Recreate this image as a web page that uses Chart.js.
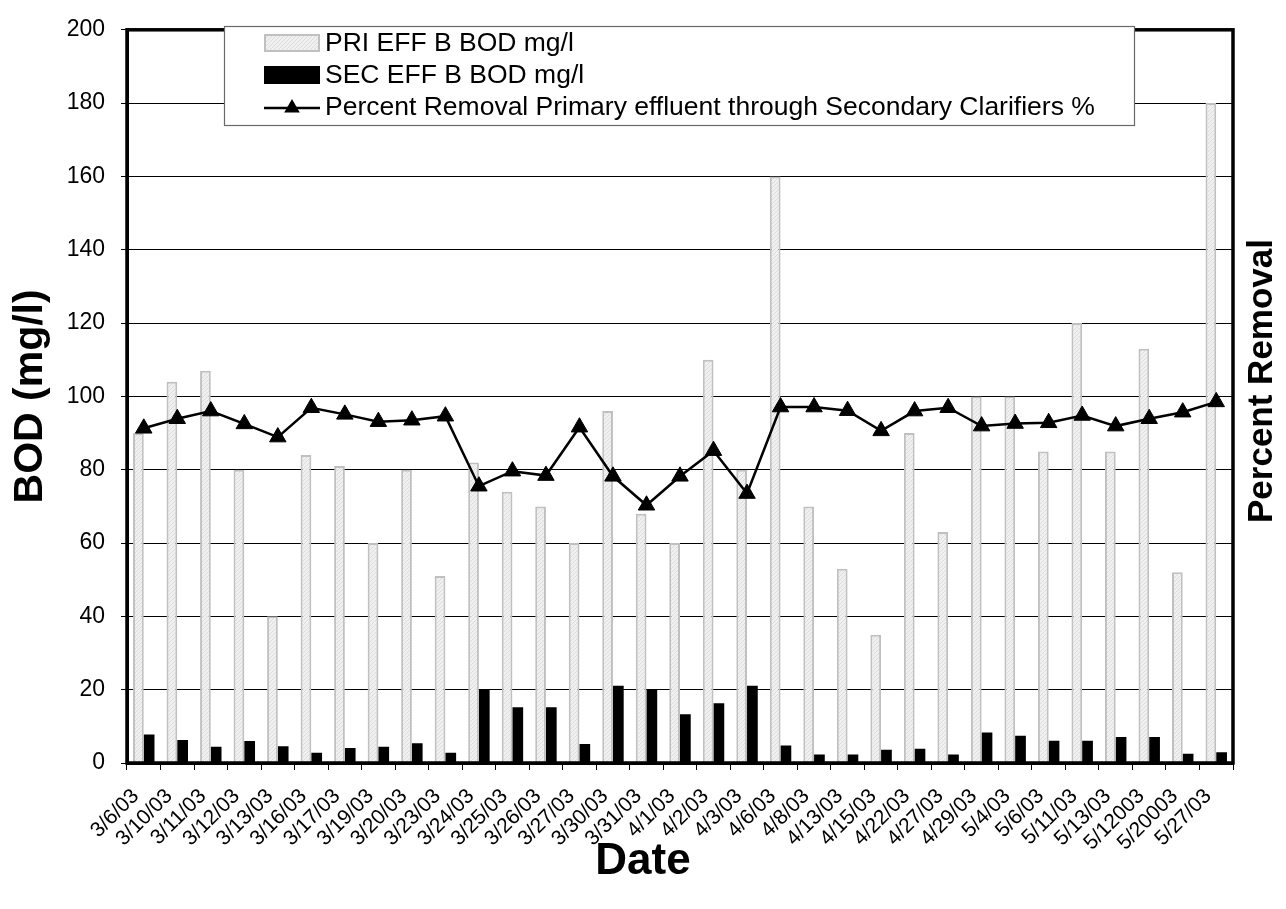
<!DOCTYPE html>
<html><head><meta charset="utf-8">
<script src="https://cdn.jsdelivr.net/npm/chart.js@4.4.1/dist/chart.umd.min.js"></script>
<style>html,body{margin:0;padding:0;background:#fff;}#wrap{width:1286px;height:909px;position:relative;}</style>
</head><body><div id="wrap"><canvas id="c" width="1286" height="909"></canvas></div>
<script>
const categories = ['3/6/03','3/10/03','3/11/03','3/12/03','3/13/03','3/16/03','3/17/03','3/19/03','3/20/03','3/23/03','3/24/03','3/25/03','3/26/03','3/27/03','3/30/03','3/31/03','4/1/03','4/2/03','4/3/03','4/6/03','4/8/03','4/13/03','4/15/03','4/22/03','4/27/03','4/29/03','5/4/03','5/6/03','5/11/03','5/13/03','5/12003','5/20003','5/27/03'];
const priEffBod = [90,104,107,80,40,84,81,60,80,51,82,74,70,60,96,68,60,110,80,160,70,53,35,90,63,100,100,85,120,85,113,52,180];
const secEffBod = [7.8,6.3,4.4,6.0,4.6,2.8,4.1,4.4,5.4,2.8,20.2,15.2,15.2,5.2,21.1,20.2,13.3,16.3,21.1,4.8,2.3,2.3,3.6,3.9,2.3,8.3,7.4,6.1,6.1,7.1,7.1,2.5,2.9];
const percentRemoval = [91.3,93.9,96.0,92.5,88.9,96.9,95.1,93.1,93.5,94.6,75.5,79.6,78.4,91.6,78.2,70.3,78.2,85.2,73.5,97.1,97.1,96.1,90.6,96.0,96.9,91.9,92.6,92.8,94.8,91.9,93.9,95.7,98.5];
const yTickValues = [0,20,40,60,80,100,120,140,160,180,200];
const seriesLabels = ['PRI EFF B BOD mg/l','SEC EFF B BOD mg/l','Percent Removal Primary effluent through Secondary Clarifiers %'];
const axisTitles = { x: 'Date', y: 'BOD (mg/l)', y2: 'Percent Removal' };

const FONT = "'Liberation Sans', Arial, sans-serif";
const canvas = document.getElementById('c');
const ctx = canvas.getContext('2d');

function makePattern(){
  const p = document.createElement('canvas'); p.width = 4; p.height = 4;
  const g = p.getContext('2d');
  g.fillStyle = '#f0f0f0'; g.fillRect(0,0,4,4);
  g.fillStyle = '#dcdcdc'; g.fillRect(0,3,1,1); g.fillRect(1,2,1,1); g.fillRect(2,1,1,1); g.fillRect(3,0,1,1);
  return ctx.createPattern(p,'repeat');
}
const priFill = makePattern();

function tri(c, x, y, r){
  c.beginPath();
  c.moveTo(x, y - r);
  c.lineTo(x + r*0.866, y + r*0.5);
  c.lineTo(x - r*0.866, y + r*0.5);
  c.closePath(); c.fill();
}

const decor = {
  id: 'decor',
  afterDraw(chart){
    const c = chart.ctx, a = chart.chartArea;
    c.save();
    c.strokeStyle = '#000'; c.lineWidth = 3.5;
    c.strokeRect(a.left, a.top, a.right - a.left, a.bottom - a.top);
    // legend
    const lx = 224, ly = 26, lw = 910, lh = 99;
    c.fillStyle = '#fff'; c.fillRect(lx, ly, lw, lh);
    c.strokeStyle = '#6a6a6a'; c.lineWidth = 1.2; c.strokeRect(lx+0.5, ly+0.5, lw, lh);
    c.fillStyle = priFill; c.fillRect(264, 34, 56, 18);
    c.strokeStyle = '#c0c0c0'; c.lineWidth = 2; c.strokeRect(265, 35, 54, 16);
    c.fillStyle = '#000'; c.fillRect(264, 66, 56, 18);
    c.strokeStyle = '#000'; c.lineWidth = 2.5;
    c.beginPath(); c.moveTo(264, 108); c.lineTo(320, 108); c.stroke();
    tri(c, 292, 108, 9);
    c.font = '26.5px ' + FONT; c.textBaseline = 'middle'; c.textAlign = 'left';
    c.fillText(seriesLabels[0], 325, 44);
    c.fillText(seriesLabels[1], 325, 76);
    c.fillText(seriesLabels[2], 325, 108);
    // right title
    c.save();
    c.translate(1262, 381);
    c.rotate(-Math.PI/2);
    c.font = 'bold 35px ' + FONT; c.textAlign = 'center'; c.textBaseline = 'middle';
    c.fillText(axisTitles.y2, 0, 0);
    c.restore();
    // x title
    c.font = 'bold 44px ' + FONT; c.textAlign = 'center'; c.textBaseline = 'middle';
    c.fillText(axisTitles.x, 643, 862);
    c.restore();
  }
};

new Chart(canvas, {
  type: 'bar',
  data: {
    labels: categories,
    datasets: [
      { type: 'line', label: seriesLabels[2], data: percentRemoval, yAxisID: 'y2', order: 0,
        borderColor: '#000', backgroundColor: '#000', borderWidth: 2.5,
        pointStyle: 'triangle', pointRadius: 9.5, pointBackgroundColor: '#000', pointBorderColor: '#000', pointBorderWidth: 1,
        tension: 0 },
      { label: seriesLabels[0], data: priEffBod, yAxisID: 'y', order: 1,
        backgroundColor: priFill, borderColor: '#c0c0c0', borderWidth: 2,
        categoryPercentage: 0.64, barPercentage: 1 },
      { label: seriesLabels[1], data: secEffBod, yAxisID: 'y', order: 2,
        backgroundColor: '#000', borderColor: '#000', borderWidth: 0,
        categoryPercentage: 0.64, barPercentage: 1 }
    ]
  },
  options: {
    responsive: false, animation: false, devicePixelRatio: 1,
    layout: { padding: { top: 19, left: 0, right: 0, bottom: 0 } },
    plugins: { legend: { display: false }, tooltip: { enabled: false } },
    scales: {
      x: {
        afterFit(s){ s.height = 146; },
        grid: { display: true, drawOnChartArea: false, offset: true, color: '#000', tickLength: 7, lineWidth: 1 },
        border: { display: true, color: '#000', width: 3 },
        ticks: { color: '#000', font: { family: FONT, size: 21 }, maxRotation: 45, minRotation: 45, autoSkip: false, padding: 14, labelOffset: -8 }
      },
      y: {
        position: 'left', min: 0, max: 200,
        afterFit(s){ s.width = 127; },
        afterBuildTicks(s){ s.ticks = yTickValues.map(v => ({ value: v })); },
        grid: { color: '#000', lineWidth: 1, tickLength: 6 },
        border: { display: true, color: '#000', width: 3 },
        ticks: { color: '#000', font: { family: FONT, size: 23 }, padding: 16 },
        title: { display: true, text: axisTitles.y, color: '#000', font: { family: FONT, size: 41, weight: 'bold' }, padding: { top: 6, bottom: 0 } }
      },
      y2: {
        position: 'right', min: 0, max: 200,
        afterFit(s){ s.width = 53; },
        grid: { display: false, drawOnChartArea: false },
        border: { display: false },
        ticks: { display: false }
      }
    }
  },
  plugins: [decor]
});
</script>
</body></html>
